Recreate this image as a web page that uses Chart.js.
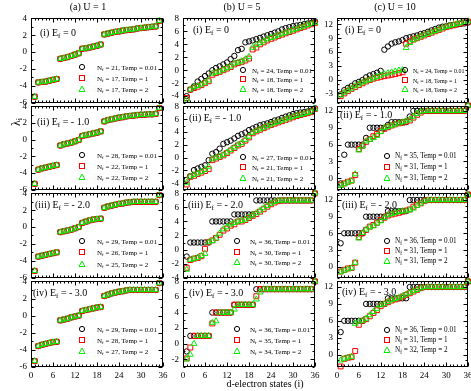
<!DOCTYPE html>
<html>
<head>
<meta charset="utf-8">
<title>d-electron spectra</title>
<script src="https://cdn.jsdelivr.net/npm/chart.js@4"></script>
<style>
  body { margin: 0; width: 471px; height: 391px; position: relative; background: #fff; overflow: hidden;
         font-family: "Liberation Serif", "Times New Roman", serif; color: #000; }
  canvas { position: absolute; }
  .t { position: absolute; white-space: nowrap; line-height: 1; transform: translateY(-50%); }
  .t sub { font-size: 70%; vertical-align: -0.25em; line-height: 0; }
  .leg { position: absolute; white-space: nowrap; line-height: 1; transform: translateY(-50%); }
  .mk { position: absolute; transform: translate(-50%, -50%); }
</style>
</head>
<body>
<script>
// ---------------------------------------------------------------
// data
// ---------------------------------------------------------------
const states = [1,2,3,4,5,6,7,8,9,10,11,12,13,14,15,16,17,18,19,20,21,22,23,24,25,26,27,28,29,30,31,32,33,34,35,36];
const temps = ["0.01", "1", "2"];
const colTitles = ["(a) U = 1", "(b) U = 5", "(c) U = 10"];
const rowTags = ["(i)", "(ii)", "(iii)", "(iv)"];
const efValues = ["0", "- 1.0", "- 2.0", "- 3.0"];

const xTicks = [0, 6, 12, 18, 24, 30, 36];
const yTicksA = [-6, -4, -2, 0, 2, 4];
const yTicksB = [-4, -2, 0, 2, 4, 6, 8];
const yTicksB4 = [-2, 0, 2, 4, 6, 8];
const yTicksC1 = [-3, 0, 3, 6, 9, 12];
const yTicksC = [0, 3, 6, 9, 12];

// N_f for Temp = 0.01, 1, 2
const nfA1 = [21, 17, 17], nfA2 = [28, 22, 22], nfA3 = [29, 26, 25], nfA4 = [29, 28, 27];
const nfB1 = [24, 18, 18], nfB2 = [27, 21, 21], nfB3 = [36, 30, 30], nfB4 = [36, 35, 34];
const nfC1 = [24, 18, 18], nfC2 = [35, 31, 31], nfC3 = [36, 31, 31], nfC4 = [36, 31, 32];

// (a) U = 1 : the three temperatures lie on top of each other (last state is off scale)
const a1 = [-5.3,-3.6,-3.55,-3.5,-3.4,-3.3,-3.2,-0.8,-0.7,-0.6,-0.45,-0.3,-0.15,0.4,0.45,0.55,0.65,0.75,0.9,2.1,2.2,2.3,2.4,2.45,2.55,2.6,2.65,2.7,2.8,2.85,2.9,2.95,3.0,3.05,3.7,null];
const a2 = [-5.3,-3.6,-3.45,-3.35,-3.25,-3.15,-3.05,-0.7,-0.55,-0.45,-0.35,-0.2,-0.05,0.45,0.55,0.65,0.75,0.85,1.0,2.2,2.35,2.45,2.55,2.65,2.7,2.8,2.85,2.9,2.95,3.0,3.0,3.05,3.05,3.1,3.8,null];
const a3 = [-5.2,-3.5,-3.4,-3.3,-3.2,-3.1,-3.0,-0.6,-0.5,-0.4,-0.3,-0.15,0.0,0.5,0.65,0.8,0.9,0.95,1.0,2.3,2.45,2.55,2.65,2.75,2.8,2.9,2.95,3.0,3.0,3.0,3.0,3.0,3.0,3.0,3.8,null];
const a4 = [-5.3,-3.55,-3.4,-3.3,-3.2,-3.1,-3.05,-0.55,-0.45,-0.35,-0.2,-0.1,0.0,0.55,0.65,0.75,0.85,0.95,1.0,2.3,2.45,2.6,2.7,2.8,2.85,2.95,3.0,3.0,3.0,3.0,3.0,3.0,3.0,3.0,3.8,null];

// (b) U = 5
const b1T001 = [-4.0,-3.0,-2.5,-1.75,-1.35,-0.9,-0.5,0.0,0.35,0.6,0.9,1.2,1.7,2.2,3.1,3.3,4.3,4.45,4.6,4.8,5.0,5.2,5.4,5.6,5.8,6.0,6.3,6.5,6.65,6.8,6.9,7.0,7.1,7.2,7.3,7.55];
const b1T1 = [-4.3,-3.0,-2.75,-2.55,-2.3,-2.0,-1.7,-0.7,-0.45,-0.25,0.0,0.25,0.5,0.9,1.1,1.3,1.5,1.8,3.2,3.5,4.0,4.3,4.6,4.85,5.05,5.3,5.5,5.7,5.9,6.1,6.3,6.5,6.7,6.9,7.1,7.3];
const b1T2 = [-4.5,-2.95,-2.6,-2.4,-2.2,-1.9,-1.55,-0.5,-0.35,-0.2,0.1,0.35,0.6,1.05,1.2,1.4,1.7,2.1,3.5,3.9,4.2,4.5,4.8,5.0,5.2,5.4,5.6,5.8,6.0,6.2,6.4,6.6,6.8,7.0,7.2,7.35];

const b2T001 = [-3.5,-2.9,-1.95,-1.7,-1.45,-1.2,-0.4,0.6,0.85,1.4,2.15,2.4,2.65,3.0,3.4,3.65,3.9,4.3,4.55,4.8,5.05,5.2,5.35,5.55,5.8,5.95,6.2,6.4,6.6,6.8,6.95,7.05,7.1,7.2,7.35,7.7];
const b2T1 = [-4.2,-3.0,-2.85,-2.55,-2.35,-2.1,-1.8,-0.4,-0.15,0.1,0.35,0.7,1.1,1.5,1.9,2.15,2.65,3.15,3.8,4.1,4.35,4.6,4.85,5.1,5.3,5.5,5.7,5.9,6.1,6.3,6.5,6.65,6.8,6.95,7.1,7.6];
const b2T2 = [-3.9,-2.95,-2.7,-2.45,-2.2,-1.9,-1.4,-0.25,0.0,0.2,0.45,0.8,1.2,1.6,2.0,2.3,2.8,3.3,3.9,4.2,4.45,4.7,4.95,5.2,5.4,5.6,5.8,6.0,6.2,6.4,6.55,6.7,6.85,7.0,7.15,7.6];

const b3T001 = [-1.0,1,1,1,1,1,1,4,4,4,4,4,4,5,5,5,5,5,5,7,7,7,7,7,7,7,7,7,7,7,7,7,7,7,7,8];
const b3T1 = [-2.6,-1.5,-1.3,-1.2,-0.95,0.1,1.05,1.3,1.65,2.1,2.7,3.0,3.4,3.6,4.0,4.0,4.2,4.5,4.8,5.05,5.4,5.75,6.1,6.45,6.7,6.9,7,7,7,7,7,7,7,7,7,8];
const b3T2 = [-2.85,-1.45,-1.3,-1.15,-0.9,-0.6,1.05,1.25,1.6,2.3,2.9,3.2,3.6,3.8,4.0,4.1,4.3,4.6,4.9,5.2,5.55,5.9,6.25,6.55,6.8,6.95,7,7,7,7,7,7,7,7,7,8];

const b4T001 = [-1.0,1,1,1,1,1,1,4,4,4,4,4,4,5,5,5,5,5,5,7,7,7,7,7,7,7,7,7,7,7,7,7,7,7,7,8];
const b4T1 = [-1.9,-0.5,1,1,1,1,1,2.6,4,4,4,4,4,5,5,5,5,5,5,6.1,7,7,7,7,7,7,7,7,7,7,7,7,7,7,7,8];
const b4T2 = [-2.0,-1.4,0.0,1,1,1,1,2.7,2.9,4,4,4,4,4.4,5,5,5,5,5,5.7,6.6,7,7,7,7,7,7,7,7,7,7,7,7,7,7,8];

// (c) U = 10
const c1T001 = [-3.2,-2.3,-1.8,-1.4,-0.8,-0.5,-0.1,0.5,0.9,1.2,1.5,1.9,6.5,7.2,7.8,8.1,8.3,8.6,9.0,9.2,9.4,9.6,9.9,10.1,10.4,10.7,11.0,11.3,11.5,11.6,11.8,11.9,12.0,12.1,12.2,12.4];
const c1T1 = [-3.6,-3.0,-2.5,-2.0,-1.6,-1.2,-0.8,-0.4,-0.1,0.2,0.4,0.6,0.75,0.9,1.05,1.2,1.4,1.6,7.8,8.3,8.7,9.0,9.3,9.6,9.9,10.2,10.5,10.8,11.1,11.4,11.6,11.8,12.0,12.2,12.4,12.6];
const c1T2 = [-3.4,-2.8,-2.3,-1.9,-1.4,-1.0,-0.6,-0.3,0.0,0.3,0.6,0.9,1.2,1.4,1.6,1.8,2.0,2.1,6.9,8.0,8.6,9.0,9.4,9.7,10.0,10.3,10.6,10.9,11.2,11.5,11.7,11.9,12.1,12.3,12.5,12.7];

const c2T001 = [-0.9,4.2,6,6,6,6,6,7.2,9,9,9,9,9,9.5,10,10,10,10,10,11.0,12,12,12,12,12,12,12,12,12,12,12,12,12,12,12,13];
const c2T1 = [-1.2,-0.9,-0.6,-0.4,0.6,5.2,5.8,6.5,7.0,7.5,7.9,8.4,8.8,9.1,9.4,9.6,9.8,9.9,10.1,10.3,10.8,11.3,11.7,12,12,12,12,12,12,12,12,12,12,12,12,13];
const c2T2 = [-1.3,-1.0,-0.7,-0.45,0.75,5.0,5.7,6.6,6.9,7.2,7.6,8.3,9.0,9.2,9.4,9.6,9.8,10.0,10.2,10.5,11.0,11.5,11.9,12,12,12,12,12,12,12,12,12,12,12,12,13];

const c3T001 = [4.2,6,6,6,6,6,6,9,9,9,9,9,9,10,10,10,10,10,10,12,12,12,12,12,12,12,12,12,12,12,12,12,12,12,12,13];
const c3T1 = [-0.9,-0.6,-0.35,-0.25,0.7,5.3,6.0,6.6,7.2,7.5,7.9,8.4,8.8,9.2,9.4,9.55,9.7,9.9,10.1,10.3,10.8,11.1,11.4,11.8,12,12,12,12,12,12,12,12,12,12,12,13];
const c3T2 = [-1.0,-0.7,-0.45,-0.3,0.7,5.1,6.1,6.7,7.1,7.3,7.8,8.2,8.8,9.3,9.5,9.7,9.9,10.0,10.0,10.2,10.5,11.0,11.4,11.8,12,12,12,12,12,12,12,12,12,12,12,13];

const c4T001 = [4.0,6,6,6,6,6,6,9,9,9,9,9,9,10,10,10,10,10,10,12,12,12,12,12,12,12,12,12,12,12,12,12,12,12,12,13];
const c4T1 = [-2.1,-0.75,-0.55,-0.45,0.65,5.3,6.0,6.3,6.8,7.4,7.9,8.6,9.0,9.3,9.6,9.8,10.0,10.3,10.6,10.9,11.2,11.5,11.8,12,12,12,12,12,12,12,12,12,12,12,12,13];
const c4T2 = [-1.0,-0.7,-0.5,-0.35,5.5,5.9,6.05,6.4,7.0,7.6,8.1,8.8,9.0,9.4,9.7,9.9,10.1,10.4,10.7,11.0,11.3,11.5,11.8,12,12,12,12,12,12,12,12,12,12,12,12,13];

// ---------------------------------------------------------------
// panels
// ---------------------------------------------------------------
const panels = [
  { col: 0, row: 0, yMin: -6, yMax: 4, yTicks: yTicksA, series: [a1, a1, a1], nf: nfA1 },
  { col: 0, row: 1, yMin: -6, yMax: 4, yTicks: yTicksA, series: [a2, a2, a2], nf: nfA2 },
  { col: 0, row: 2, yMin: -6, yMax: 4, yTicks: yTicksA, series: [a3, a3, a3], nf: nfA3 },
  { col: 0, row: 3, yMin: -6, yMax: 4, yTicks: yTicksA, series: [a4, a4, a4], nf: nfA4 },
  { col: 1, row: 0, yMin: -5, yMax: 8, yTicks: yTicksB, series: [b1T001, b1T1, b1T2], nf: nfB1 },
  { col: 1, row: 1, yMin: -5, yMax: 8, yTicks: yTicksB, series: [b2T001, b2T1, b2T2], nf: nfB2 },
  { col: 1, row: 2, yMin: -4, yMax: 8, yTicks: yTicksB, series: [b3T001, b3T1, b3T2], nf: nfB3 },
  { col: 1, row: 3, yMin: -3, yMax: 8, yTicks: yTicksB4, series: [b4T001, b4T1, b4T2], nf: nfB4 },
  { col: 2, row: 0, yMin: -5, yMax: 13.3, yTicks: yTicksC1, series: [c1T001, c1T1, c1T2], nf: nfC1 },
  { col: 2, row: 1, yMin: -2, yMax: 12.8, yTicks: yTicksC, series: [c2T001, c2T1, c2T2], nf: nfC2 },
  { col: 2, row: 2, yMin: -2, yMax: 13.2, yTicks: yTicksC, series: [c3T001, c3T1, c3T2], nf: nfC3 },
  { col: 2, row: 3, yMin: -2.2, yMax: 13, yTicks: yTicksC, series: [c4T001, c4T1, c4T2], nf: nfC4 },
];

// geometry (pixels)
const COLS = [{ l: 31, r: 163 }, { l: 183, r: 315 }, { l: 337, r: 468 }];
const ROWS = [{ t: 16, b: 104 }, { t: 104, b: 191 }, { t: 191, b: 279 }, { t: 279, b: 367 }];
const YW = 26, PT = 7, PR = 8;

// label / legend placement per panel [col][row]
const tagPos = [
  [[40, 33], [37, 122], [35, 205], [33, 293]],
  [[193, 30], [189, 118], [188, 205], [189, 293]],
  [[345, 30], [340, 115], [342, 205], [342, 292]],
];
// marker x, text x, first row y, row step, font size
const legPos = [
  [[82, 97, 68, 11, 7], [82, 97, 156, 11, 7], [82, 97, 242, 11.3, 7], [82, 97, 330, 10.8, 7]],
  [[243, 252, 71, 9.4, 7], [243, 252, 158, 10.3, 7], [237, 250, 242, 10.5, 7], [237, 250, 330, 10.8, 7]],
  [[405, 413, 71, 9.6, 6], [387, 395, 157, 11, 7.2], [387, 395, 242, 10, 7.2], [387, 395, 331, 10, 7.2]],
];

const styles = [
  { color: "#000000", shape: "circle", radius: 2.7, order: 3 },
  { color: "#ff0000", shape: "rect", radius: 3.5, order: 2 },
  { color: "#00ee00", shape: "triangle", radius: 3.4, order: 1 },
];

// inward frame ticks on all four sides
const frameTicks = {
  id: "frameTicks",
  afterDraw(chart, args, opts) {
    const { ctx, chartArea: a, scales: { x, y } } = chart;
    const L = Math.round(a.left) + 0.5, R = Math.round(a.right) - 0.5;
    const T = Math.round(a.top) + 0.5, B = Math.round(a.bottom) - 0.5;
    ctx.save();
    ctx.strokeStyle = "#000";
    ctx.lineWidth = 1;
    ctx.beginPath();
    for (let v = Math.ceil(x.min); v <= x.max; v++) {
      const px = Math.round(x.getPixelForValue(v)) + 0.5;
      const len = v % 6 === 0 ? 4 : 2;
      ctx.moveTo(px, B); ctx.lineTo(px, B - len);
      ctx.moveTo(px, T); ctx.lineTo(px, T + len);
    }
    for (let v = Math.ceil(y.min); v <= y.max; v++) {
      const py = Math.round(y.getPixelForValue(v)) + 0.5;
      const len = opts.major.includes(v) ? 4 : 2;
      ctx.moveTo(L, py); ctx.lineTo(L + len, py);
      ctx.moveTo(R, py); ctx.lineTo(R - len, py);
    }
    ctx.stroke();
    ctx.strokeRect(L, T, R - L, B - T);
    ctx.restore();
  },
};

function addText(html, x, y, size, cls) {
  const d = document.createElement("div");
  d.className = cls || "t";
  d.style.left = x + "px";
  d.style.top = y + "px";
  d.style.fontSize = size + "px";
  d.innerHTML = html;
  document.body.appendChild(d);
  return d;
}

function markerSvg(shape, color) {
  let s = "";
  if (shape === "circle") s = `<circle cx="4" cy="4" r="2.6" fill="none" stroke="${color}"/>`;
  else if (shape === "rect") s = `<rect x="1.5" y="1.5" width="5" height="5" fill="none" stroke="${color}"/>`;
  else s = `<polygon points="4,1 7,6.5 1,6.5" fill="none" stroke="${color}"/>`;
  return `<svg width="8" height="8" viewBox="0 0 8 8">${s}</svg>`;
}

panels.forEach((p) => {
  const c = COLS[p.col], r = ROWS[p.row];
  const bottom = p.row === 3;
  const xH = bottom ? 18 : 8;
  const cv = document.createElement("canvas");
  const w = YW + (c.r - c.l) + PR;
  const h = PT + (r.b - r.t) + xH;
  cv.width = w; cv.height = h;
  cv.style.left = (c.l - YW) + "px";
  cv.style.top = (r.t - PT) + "px";
  cv.style.width = w + "px"; cv.style.height = h + "px";
  document.body.appendChild(cv);

  const tickFont = { family: "'Liberation Serif', 'Times New Roman', serif", size: 9 };

  new Chart(cv, {
    type: "scatter",
    data: {
      datasets: p.series.map((vals, k) => ({
        label: `T = ${temps[k]}`,
        data: states.map((s, i) => ({ x: s, y: vals[i] })),
        pointStyle: styles[k].shape,
        pointRadius: styles[k].radius,
        pointBorderWidth: 1,
        borderColor: styles[k].color,
        backgroundColor: "rgba(0,0,0,0)",
        order: styles[k].order,
        clip: 4,
      })),
    },
    options: {
      responsive: false,
      animation: false,
      devicePixelRatio: 1,
      events: [],
      layout: { padding: { top: PT, right: PR, left: 0, bottom: 0 } },
      plugins: { legend: { display: false }, tooltip: { enabled: false }, frameTicks: { major: p.yTicks } },
      scales: {
        x: {
          type: "linear", min: 0, max: 36,
          grid: { display: false, drawTicks: false }, border: { display: false },
          ticks: { display: bottom, font: tickFont, color: "#000", padding: 3, maxRotation: 0, autoSkip: false },
          afterBuildTicks: (s) => { s.ticks = xTicks.map((v) => ({ value: v })); },
          afterFit: (s) => { s.height = xH; },
        },
        y: {
          type: "linear", min: p.yMin, max: p.yMax,
          grid: { display: false, drawTicks: false }, border: { display: false },
          ticks: { font: tickFont, color: "#000", padding: 4, autoSkip: false },
          afterBuildTicks: (s) => { s.ticks = p.yTicks.map((v) => ({ value: v })); },
          afterFit: (s) => { s.width = YW; },
        },
      },
    },
    plugins: [frameTicks],
  });

  // panel tag
  const tp = tagPos[p.col][p.row];
  addText(`${rowTags[p.row]} E<sub>f</sub> = ${efValues[p.row]}`, tp[0], tp[1], 10);

  // legend
  const lp = legPos[p.col][p.row];
  for (let k = 0; k < 3; k++) {
    const y = lp[2] + k * lp[3];
    addText(markerSvg(styles[k].shape, styles[k].color), lp[0], y, 8, "mk");
    addText(`N<sub>f</sub> = ${p.nf[k]}, Temp = ${temps[k]}`, lp[1], y, lp[4], "leg t");
  }
});

// column titles
const titleX = [88, 242, 395];
colTitles.forEach((t, i) => {
  const d = addText(t, titleX[i], 7, 10);
  d.style.transform = "translate(-50%, -50%)";
});

// axis titles
const xt = addText("d-electron states (i)", 265, 384, 10);
xt.style.transform = "translate(-50%, -50%)";
const yt = addText("&lambda;<sub>i</sub>", 16, 122, 12);
yt.style.transform = "translate(-50%, -50%) rotate(-90deg)";
</script>
</body>
</html>
